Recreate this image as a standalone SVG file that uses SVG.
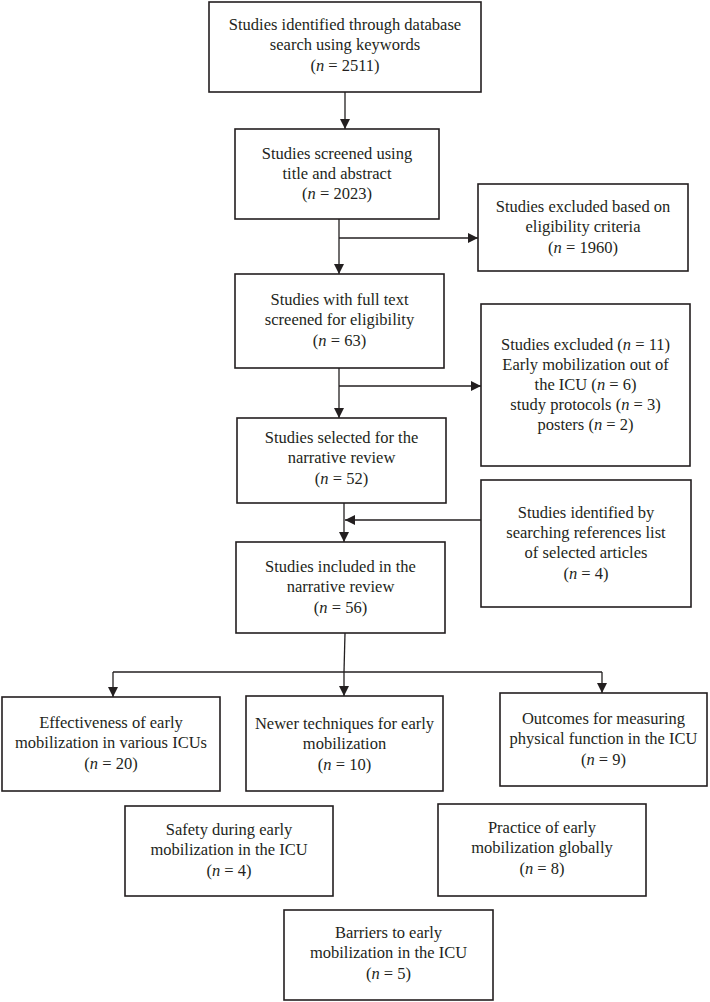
<svg xmlns="http://www.w3.org/2000/svg" width="710" height="1002" viewBox="0 0 710 1002">
<style>
.box{fill:#fff;stroke:#231f20;stroke-width:1.6}
.t{font-family:"Liberation Serif","Times New Roman",serif;font-size:16.5px;fill:#231f20;text-anchor:middle}
.i{font-style:italic}
.c{fill:none;stroke:#231f20;stroke-width:1.3}
</style>
<defs>
<marker id="ah" viewBox="0 0 10 10" refX="10" refY="5" markerWidth="10" markerHeight="10" markerUnits="userSpaceOnUse" orient="auto">
<path d="M0,0 L10,5 L0,10 Z" fill="#231f20"/>
</marker>
</defs>
<rect width="710" height="1002" fill="#fff"/>
<g id="connectors">
<path class="c" d="M345,92 V129" marker-end="url(#ah)"/>
<path class="c" d="M339,219 V274" marker-end="url(#ah)"/>
<path class="c" d="M339,238 H478" marker-end="url(#ah)"/>
<path class="c" d="M339,368 V418" marker-end="url(#ah)"/>
<path class="c" d="M339,386 H481" marker-end="url(#ah)"/>
<path class="c" d="M344,503 V542" marker-end="url(#ah)"/>
<path class="c" d="M481,520 H345" marker-end="url(#ah)"/>
<path class="c" d="M345,633 L344,672"/>
<path class="c" d="M113,672 H602"/>
<path class="c" d="M113,672 V697" marker-end="url(#ah)"/>
<path class="c" d="M344,672 V696" marker-end="url(#ah)"/>
<path class="c" d="M602,672 V693" marker-end="url(#ah)"/>
</g>
<g id="n1">
<rect class="box" x="209" y="2" width="272" height="90"/>
<text class="t" x="345" y="30">Studies identified through database</text>
<text class="t" x="345" y="50">search using keywords</text>
<text class="t" x="345" y="71">(<tspan class="i">n</tspan> = 2511)</text>
</g>
<g id="n2">
<rect class="box" x="235" y="129" width="204" height="90"/>
<text class="t" x="337" y="159">Studies screened using</text>
<text class="t" x="337" y="179">title and abstract</text>
<text class="t" x="337" y="199">(<tspan class="i">n</tspan> = 2023)</text>
</g>
<g id="n3">
<rect class="box" x="478" y="184" width="210" height="87"/>
<text class="t" x="583" y="212">Studies excluded based on</text>
<text class="t" x="583" y="232">eligibility criteria</text>
<text class="t" x="583" y="253">(<tspan class="i">n</tspan> = 1960)</text>
</g>
<g id="n4">
<rect class="box" x="235" y="274" width="209" height="94"/>
<text class="t" x="339.5" y="305">Studies with full text</text>
<text class="t" x="339.5" y="325">screened for eligibility</text>
<text class="t" x="339.5" y="346">(<tspan class="i">n</tspan> = 63)</text>
</g>
<g id="n5">
<rect class="box" x="481" y="304" width="209" height="162"/>
<text class="t" x="585.5" y="350">Studies excluded (<tspan class="i">n</tspan> = 11)</text>
<text class="t" x="585.5" y="370">Early mobilization out of</text>
<text class="t" x="585.5" y="390">the ICU (<tspan class="i">n</tspan> = 6)</text>
<text class="t" x="585.5" y="410">study protocols (<tspan class="i">n</tspan> = 3)</text>
<text class="t" x="585.5" y="430">posters (<tspan class="i">n</tspan> = 2)</text>
</g>
<g id="n6">
<rect class="box" x="237" y="418" width="209" height="85"/>
<text class="t" x="341.5" y="443">Studies selected for the</text>
<text class="t" x="341.5" y="463">narrative review</text>
<text class="t" x="341.5" y="484">(<tspan class="i">n</tspan> = 52)</text>
</g>
<g id="n7">
<rect class="box" x="481" y="480" width="210" height="127"/>
<text class="t" x="586" y="518">Studies identified by</text>
<text class="t" x="586" y="538">searching references list</text>
<text class="t" x="586" y="558">of selected articles</text>
<text class="t" x="586" y="579">(<tspan class="i">n</tspan> = 4)</text>
</g>
<g id="n8">
<rect class="box" x="236" y="542" width="209" height="91"/>
<text class="t" x="340.5" y="572">Studies included in the</text>
<text class="t" x="340.5" y="592">narrative review</text>
<text class="t" x="340.5" y="613">(<tspan class="i">n</tspan> = 56)</text>
</g>
<g id="n9">
<rect class="box" x="2" y="697" width="218" height="94"/>
<text class="t" x="111" y="728">Effectiveness of early</text>
<text class="t" x="111" y="748">mobilization in various ICUs</text>
<text class="t" x="111" y="769">(<tspan class="i">n</tspan> = 20)</text>
</g>
<g id="n10">
<rect class="box" x="246" y="696" width="197" height="95"/>
<text class="t" x="344.5" y="729">Newer techniques for early</text>
<text class="t" x="344.5" y="749">mobilization</text>
<text class="t" x="344.5" y="770">(<tspan class="i">n</tspan> = 10)</text>
</g>
<g id="n11">
<rect class="box" x="500" y="693" width="207" height="93"/>
<text class="t" x="603.5" y="724">Outcomes for measuring</text>
<text class="t" x="603.5" y="744">physical function in the ICU</text>
<text class="t" x="603.5" y="765">(<tspan class="i">n</tspan> = 9)</text>
</g>
<g id="n12">
<rect class="box" x="125" y="806" width="208" height="90"/>
<text class="t" x="229" y="835">Safety during early</text>
<text class="t" x="229" y="855">mobilization in the ICU</text>
<text class="t" x="229" y="876">(<tspan class="i">n</tspan> = 4)</text>
</g>
<g id="n13">
<rect class="box" x="438" y="804" width="208" height="92"/>
<text class="t" x="542" y="833">Practice of early</text>
<text class="t" x="542" y="853">mobilization globally</text>
<text class="t" x="542" y="874">(<tspan class="i">n</tspan> = 8)</text>
</g>
<g id="n14">
<rect class="box" x="284" y="910" width="209" height="90"/>
<text class="t" x="388.5" y="938">Barriers to early</text>
<text class="t" x="388.5" y="958">mobilization in the ICU</text>
<text class="t" x="388.5" y="979">(<tspan class="i">n</tspan> = 5)</text>
</g>
</svg>
